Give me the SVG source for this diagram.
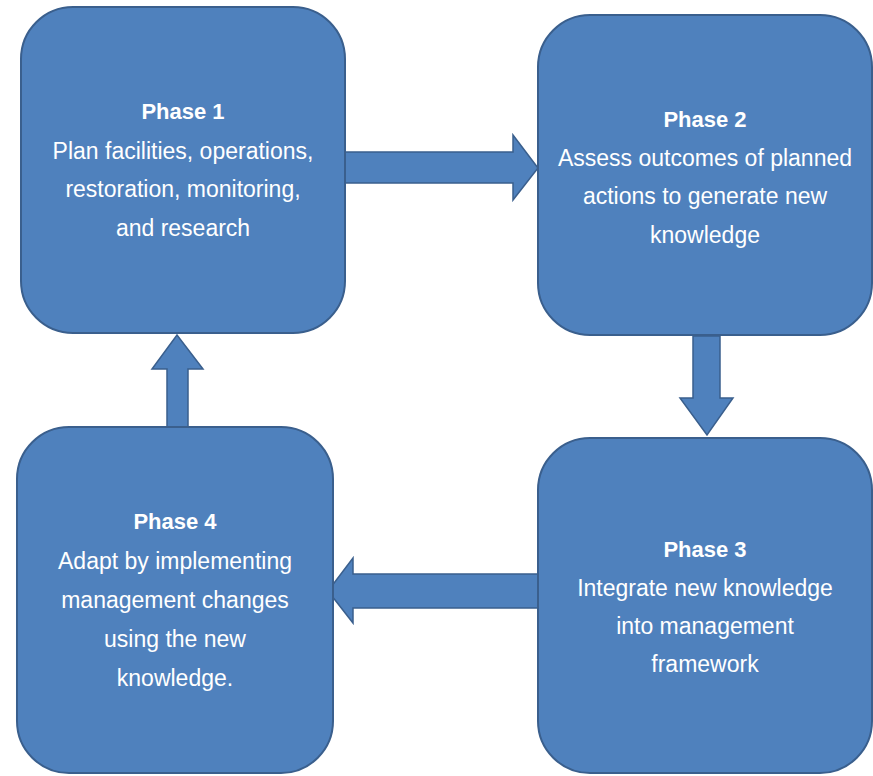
<svg xmlns="http://www.w3.org/2000/svg" width="873" height="776" viewBox="0 0 873 776">
  <style>
    .box { fill: #4f81bd; stroke: #3a5f8d; stroke-width: 2; }
    .arrow { fill: #4f81bd; stroke: #3a5f8d; stroke-width: 1.5; stroke-linejoin: miter; }
    text { fill: #ffffff; font-family: "Liberation Sans", Arial, sans-serif; text-anchor: middle; }
    .title { font-size: 22px; font-weight: bold; }
    .body { font-size: 23px; }
  </style>
  <rect width="873" height="776" fill="#ffffff"/>

  <g id="connectors">
    <!-- Phase 1 to Phase 2 -->
    <polygon class="arrow" points="345,152 513,152 513,135 538,168 513,200 513,183 345,183"/>
    <!-- Phase 2 to Phase 3 -->
    <polygon class="arrow" points="693,336 720,336 720,398 733,398 707,435 680,398 693,398"/>
    <!-- Phase 3 to Phase 4 -->
    <polygon class="arrow" points="538,574 353,574 353,558 328,591 353,623 353,608 538,608"/>
    <!-- Phase 4 to Phase 1 -->
    <polygon class="arrow" points="167,427 167,369 152,369 177,335 203,369 188,369 188,427"/>
  </g>

  <g id="phase1">
    <rect class="box" x="21" y="7" width="324" height="326" rx="52" ry="52"/>
    <text class="title" x="183" y="119">Phase 1</text>
    <text class="body" x="183" y="159">Plan facilities, operations,</text>
    <text class="body" x="183" y="197">restoration, monitoring,</text>
    <text class="body" x="183" y="236">and research</text>
  </g>

  <g id="phase2">
    <rect class="box" x="538" y="15" width="334" height="320" rx="52" ry="52"/>
    <text class="title" x="705" y="127">Phase 2</text>
    <text class="body" x="705" y="166">Assess outcomes of planned</text>
    <text class="body" x="705" y="204">actions to generate new</text>
    <text class="body" x="705" y="243">knowledge</text>
  </g>

  <g id="phase3">
    <rect class="box" x="538" y="438" width="334" height="335" rx="52" ry="52"/>
    <text class="title" x="705" y="557">Phase 3</text>
    <text class="body" x="705" y="596">Integrate new knowledge</text>
    <text class="body" x="705" y="634">into management</text>
    <text class="body" x="705" y="672">framework</text>
  </g>

  <g id="phase4">
    <rect class="box" x="17" y="427" width="316" height="346" rx="52" ry="52"/>
    <text class="title" x="175" y="529">Phase 4</text>
    <text class="body" x="175" y="569">Adapt by implementing</text>
    <text class="body" x="175" y="608">management changes</text>
    <text class="body" x="175" y="647">using the new</text>
    <text class="body" x="175" y="686">knowledge.</text>
  </g>
</svg>
